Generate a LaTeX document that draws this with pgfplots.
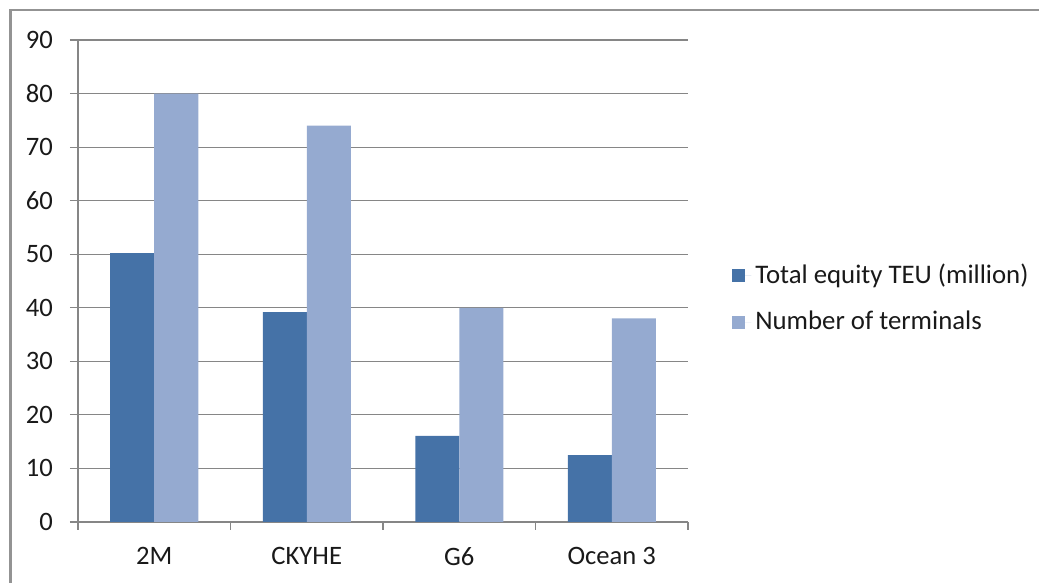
\documentclass[border=0pt]{standalone}
\usepackage{fontspec}
\setmainfont{Carlito}
\usepackage{pgfplots}
\pgfplotsset{compat=1.18}

\definecolor{teu}{RGB}{69,114,167}
\definecolor{term}{RGB}{149,170,208}
\definecolor{gridgray}{RGB}{134,134,134}

\begin{document}
\fontsize{13.3}{16}\selectfont
\begin{tikzpicture}
\useasboundingbox (0,0) rectangle (519.5pt,291.5pt);
% outer chart frame (cut at right and bottom like the screenshot)
\draw[color=gray!85, line width=1.4pt] (5.25pt,-10pt) -- (5.25pt,286.5pt) -- (540pt,286.5pt);
\begin{axis}[
    at={(39pt,30.5pt)}, anchor=south west,
    scale only axis,
    width=305pt, height=241pt,
    ybar=0pt, bar width=22pt,
    xmin=-0.5, xmax=3.5,
    ymin=0, ymax=90,
    ytick={0,10,...,90},
    xtick={0,1,2,3},
    xticklabels={2M,CKYHE,G6,Ocean 3},
    minor xtick={-0.5,0.5,1.5,2.5,3.5},
    major x tick style={draw=none},
    minor tick length=4pt,
    major tick length=4pt,
    tick align=outside,
    xtick pos=bottom, ytick pos=left,
    axis x line*=bottom, axis y line*=left,
    axis line style={gridgray, line width=0.6pt},
    tick style={gridgray, line width=0.6pt},
    ymajorgrids, grid style={gridgray, line width=0.6pt},
    /pgf/number format/assume math mode=true,
    ticklabel style={font=\fontsize{13.3}{16}\selectfont, text=black!90},
    yticklabel style={xshift=-4pt},
    xticklabel style={yshift=-4pt},
    legend style={at={(1.072,0.463)}, anchor=west, draw=none, fill=none,
        font=\fontsize{13.4}{16}\selectfont, text=black!90,
        row sep=8pt, inner sep=0pt, cells={anchor=west}},
    legend image code/.code={\fill[#1] (0pt,-3.25pt) rectangle (6.5pt,3.25pt);
        \path (0pt,0pt) -- (9.5pt,0pt);},
]
\addplot[fill=teu, draw=none] coordinates {(0,50.2) (1,39.2) (2,16.1) (3,12.5)};
\addplot[fill=term, draw=none] coordinates {(0,80) (1,74) (2,40) (3,38)};
\legend{Total equity TEU (million), Number of terminals}
\end{axis}
\end{tikzpicture}
\end{document}
